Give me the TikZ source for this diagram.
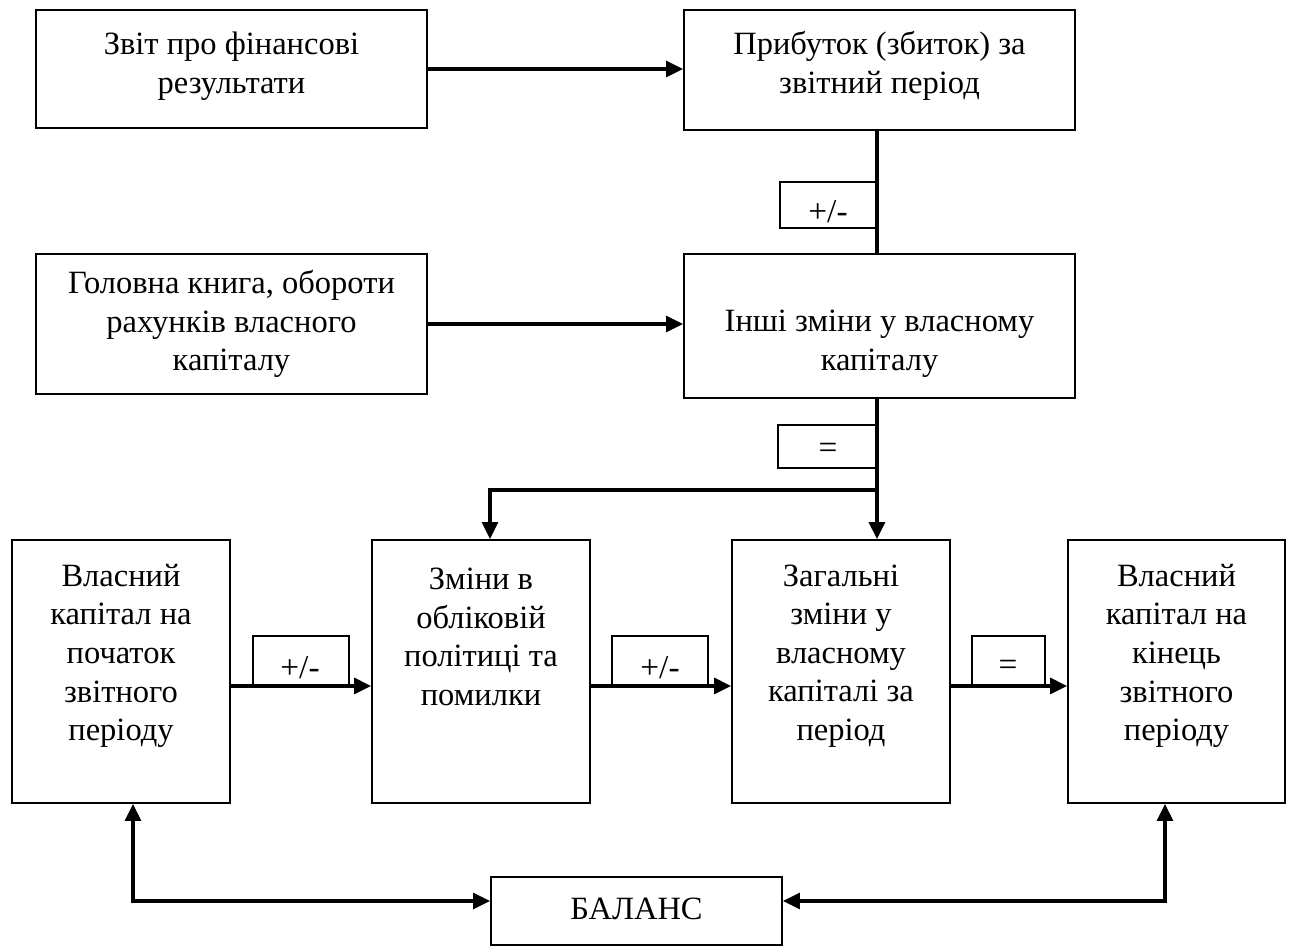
\documentclass[tikz,border=0pt]{standalone}
\usepackage{fontspec}
\setmainfont{Liberation Serif}
\usetikzlibrary{arrows.meta,calc}
\begin{document}
\begin{tikzpicture}[x=0.02cm,y=-0.02cm,
  box/.style={draw, line width=1.1pt, inner sep=0pt},
  txt/.style={align=center, inner sep=0pt, font=\fontsize{18.5}{22}\selectfont},
  sym/.style={inner sep=0pt, font=\fontsize{19}{22}\selectfont},
  conn/.style={line width=1.8pt},
  arr/.style={conn, -{Triangle[length=0.34cm,width=0.32cm]}},
  arrboth/.style={conn, {Triangle[length=0.34cm,width=0.32cm]}-{Triangle[length=0.34cm,width=0.32cm]}}]
\useasboundingbox (0,0) rectangle (1289,946);
% boxes
\node[box, minimum width=7.82cm, minimum height=2.36cm] (b1) at (231.5,69) {};
\node[box, minimum width=7.82cm, minimum height=2.4cm] (b2) at (879.5,70) {};
\node[box, minimum width=1.92cm, minimum height=0.92cm] (s1) at (828,205) {};
\node[box, minimum width=7.82cm, minimum height=2.8cm] (b3) at (231.5,324) {};
\node[box, minimum width=7.82cm, minimum height=2.88cm] (b4) at (879.5,326) {};
\node[box, minimum width=1.96cm, minimum height=0.86cm] (s2) at (827,446.5) {};
\node[box, minimum width=4.36cm, minimum height=5.26cm] (b5) at (121,671.5) {};
\node[box, minimum width=4.36cm, minimum height=5.26cm] (b6) at (481,671.5) {};
\node[box, minimum width=4.36cm, minimum height=5.26cm] (b7) at (841,671.5) {};
\node[box, minimum width=4.34cm, minimum height=5.26cm] (b8) at (1176.5,671.5) {};
\node[box, minimum width=1.92cm, minimum height=0.98cm] (s3) at (301,660.5) {};
\node[box, minimum width=1.92cm, minimum height=0.98cm] (s4) at (660,660.5) {};
\node[box, minimum width=1.46cm, minimum height=0.98cm] (s5) at (1008.5,660.5) {};
\node[box, minimum width=5.82cm, minimum height=1.36cm] (bal) at (636.5,911) {};
% texts
\node[txt] (t1) at (231.5,66) {Звіт про фінансові\\результати};
\node[txt] (t2) at (879.5,66) {Прибуток (збиток) за\\звітний період};
\node[txt] (t3) at (231.5,324) {Головна книга, обороти\\рахунків власного\\капіталу};
\node[txt] (t4) at (879.5,344) {Інші зміни у власному\\капіталу};
\node[txt] (t5) at (121,656) {Власний\\капітал на\\початок\\звітного\\періоду};
\node[txt] (t6) at (481,637) {Зміни в\\обліковій\\політиці та\\помилки};
\node[txt] (t7) at (841,656) {Загальні\\зміни у\\власному\\капіталі за\\період};
\node[txt] (t8) at (1176.5,656) {Власний\\капітал на\\кінець\\звітного\\періоду};
\node[txt] (tb) at (636.5,909) {БАЛАНС};
\node[sym] (y1) at (828,212) {+/-};
\node[sym] (y2) at (828,451) {=};
\node[sym] (y3) at (300,668) {+/-};
\node[sym] (y4) at (660,668) {+/-};
\node[sym] (y5) at (1008,668) {=};
% connectors
\draw[arr] (b1.east) -- (b2.west |- b1.east);
\draw[arr] (b3.east) -- (b4.west |- b3.east);
\draw[conn] (b2.south -| s1.east) -- (b4.north -| s1.east);
\coordinate (j) at (876,490);
\coordinate (jl) at (490,490);
\draw[arr] (b4.south -| s1.east) -- (b7.north -| s1.east);
\draw[arr] (j) -- (jl) -- (jl |- b6.north);
\draw[arr] (b5.east |- s3.south) -- (b6.west |- s3.south);
\draw[arr] (b6.east |- s4.south) -- (b7.west |- s4.south);
\draw[arr] (b7.east |- s5.south) -- (b8.west |- s5.south);
\coordinate (cl) at (133,901);
\coordinate (cr) at (1165,901);
\draw[arrboth] (cl |- b5.south) -- (cl) -- (bal.west |- cl);
\draw[arrboth] (cr |- b8.south) -- (cr) -- (bal.east |- cr);
\end{tikzpicture}
\end{document}
